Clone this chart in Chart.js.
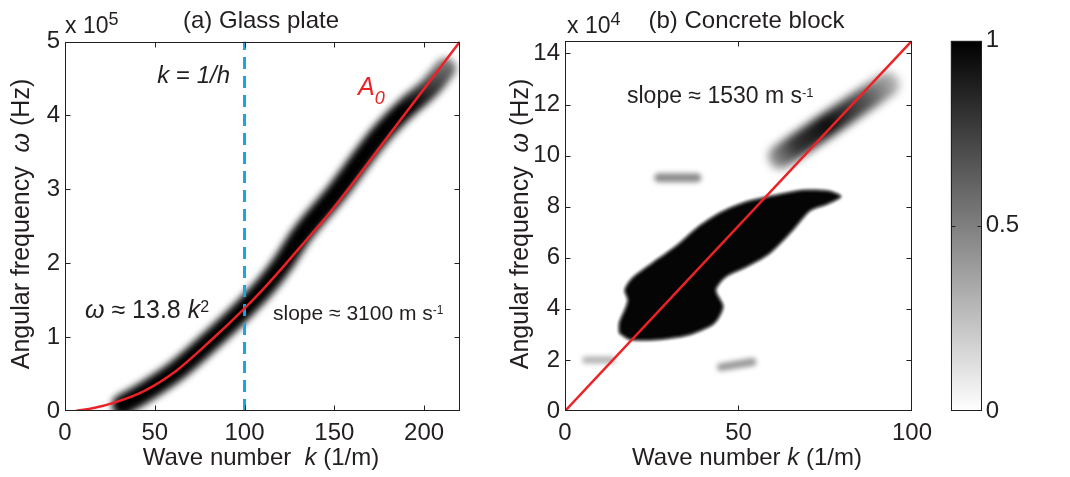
<!DOCTYPE html>
<html>
<head>
<meta charset="utf-8">
<script src="https://cdn.jsdelivr.net/npm/chart.js@4.4.0/dist/chart.umd.min.js"></script>
<style>
  html, body { margin: 0; padding: 0; background: #fff; }
  #wrap { position: relative; width: 1070px; height: 477px; }
  #wrap > div { position: absolute; top: 0; height: 477px; }
</style>
</head>
<body>
<div id="wrap">
  <div style="left:0;width:480px"><canvas id="glass"></canvas></div>
  <div style="left:480px;width:460px"><canvas id="concrete"></canvas></div>
  <div style="left:940px;width:130px"><canvas id="cbar"></canvas></div>
</div>
<script>
const INK = '#231f20';
const RED = '#ec2227';
const FONT = '"Liberation Sans", Arial, sans-serif';

// (a) glass plate, omega in 1e5 rad/s
const a0K = [6, 16, 27, 44, 62, 81, 100, 110, 120, 130, 140, 148, 189, 220];
const a0W = [0, 0.04, 0.11, 0.27, 0.545, 0.95, 1.39, 1.64, 1.91, 2.19, 2.47, 2.70, 4.01, 5.0];
const bandK = [32, 44, 62, 81, 100, 112, 122, 131, 151, 175, 190, 204, 212];
const bandW = [0.08, 0.25, 0.545, 0.95, 1.39, 1.7, 2.02, 2.36, 2.95, 3.72, 4.1, 4.4, 4.64];
const khK = [100, 100];
const khW = [0, 5];
const glassXTicks = [0, 50, 100, 150, 200];
const glassYTicks = [0, 1, 2, 3, 4, 5];

// (b) concrete block, omega in 1e4 rad/s
const fitK = [0, 100];
const fitW = [0, 14.5];
const mainBlobK = [15.7, 15.7, 17.3, 18.2, 17.3, 19.4, 25.3, 32.0, 37.9, 44.6, 52.2, 60.6, 69.0, 75.7, 79.5,
                   75.7, 70.7, 65.6, 58.9, 52.2, 46.3, 43.4, 45.5, 43.0, 35.4, 25.3, 18.6, 15.7];
const mainBlobW = [3.05, 3.44, 3.96, 4.35, 4.74, 5.2, 5.8, 6.45, 7.15, 7.75, 8.18, 8.44, 8.64, 8.61, 8.40,
                   8.12, 7.86, 7.08, 6.17, 5.65, 5.26, 4.74, 4.09, 3.44, 2.98, 2.79, 2.81, 3.05];
const upperBlobK = [62, 93];
const upperBlobW = [9.95, 12.8];
const spotAK = [27, 38], spotAW = [9.13, 9.13];
const spotBK = [6, 13.5], spotBW = [2.0, 2.0];
const spotCK = [45, 54], spotCW = [1.72, 1.92];
const concXTicks = [0, 50, 100];
const concYTicks = [0, 2, 4, 6, 8, 10, 12, 14];

// colour bar
const cbarTicks = [0, 0.5, 1];

const pts = (ks, ws) => ks.map((k, i) => ({ x: k, y: ws[i] }));

function rich(ctx, x, y, parts, size, align, color) {
  const fontFor = p => (p.i ? 'italic ' : '') + (p.s || size) + 'px ' + FONT;
  let w = 0;
  parts.forEach(p => { ctx.font = fontFor(p); p.w = ctx.measureText(p.t).width; w += p.w; });
  let cx = align === 'center' ? x - w / 2 : align === 'right' ? x - w : x;
  ctx.fillStyle = color || INK;
  ctx.textAlign = 'left';
  ctx.textBaseline = 'alphabetic';
  parts.forEach(p => {
    ctx.font = fontFor(p);
    ctx.fillText(p.t, cx, y + (p.dy || 0));
    cx += p.w;
  });
}

const deco = {
  id: 'deco',
  beforeDatasetsDraw(chart, args, opts) {
    chart.ctx.filter = opts.fillBlur ? 'blur(' + opts.fillBlur + 'px)' : 'none';
  },
  beforeDatasetDraw(chart, args) {
    const b = chart.data.datasets[args.index].blur;
    chart.ctx.filter = b ? 'blur(' + b + 'px)' : 'none';
  },
  afterDatasetDraw(chart) {
    chart.ctx.filter = 'none';
  },
  afterDraw(chart, args, opts) {
    const ctx = chart.ctx, a = chart.chartArea;
    const L = Math.round(a.left) + 0.5, R = Math.round(a.right) - 0.5;
    const T = Math.round(a.top) + 0.5, B = Math.round(a.bottom) - 0.5;
    const len = opts.tickLen || 5;
    ctx.save();
    ctx.filter = 'none';
    ctx.strokeStyle = INK;
    ctx.lineWidth = 1;
    ctx.strokeRect(L, T, R - L, B - T);
    ctx.beginPath();
    const xs = chart.scales.x, ys = chart.scales.y;
    if (xs.options.display) {
      xs.ticks.forEach(t => {
        const p = Math.round(xs.getPixelForValue(t.value)) + 0.5;
        if (p <= L + 1 || p >= R - 1) return;
        ctx.moveTo(p, B); ctx.lineTo(p, B - len);
        ctx.moveTo(p, T); ctx.lineTo(p, T + len);
      });
    }
    ys.ticks.forEach(t => {
      const p = Math.round(ys.getPixelForValue(t.value)) + 0.5;
      if (p <= T + 1 || p >= B - 1) return;
      ctx.moveTo(L, p); ctx.lineTo(L + len, p);
      ctx.moveTo(R, p); ctx.lineTo(R - len, p);
    });
    ctx.stroke();
    (opts.texts || []).forEach(tx => {
      ctx.save();
      ctx.translate(tx.x, tx.y);
      if (tx.rot) ctx.rotate(-Math.PI / 2);
      rich(ctx, 0, 0, tx.parts, tx.size, tx.align, tx.color);
      ctx.restore();
    });
    ctx.restore();
  }
};

function scales(xMin, xMax, xTicks, yMin, yMax, yTicks, yWidth) {
  const tickFont = { family: FONT, size: 24 };
  return {
    x: {
      type: 'linear', min: xMin, max: xMax,
      afterBuildTicks: s => { s.ticks = xTicks.map(v => ({ value: v })); },
      afterFit: s => { s.height = 66; },
      grid: { display: false, drawTicks: false }, border: { display: false },
      ticks: { font: tickFont, color: INK, padding: 8, maxRotation: 0, autoSkip: false }
    },
    y: {
      type: 'linear', min: yMin, max: yMax,
      afterBuildTicks: s => { s.ticks = yTicks.map(v => ({ value: v })); },
      afterFit: s => { s.width = yWidth; },
      grid: { display: false, drawTicks: false }, border: { display: false },
      ticks: { font: tickFont, color: INK, padding: 5, autoSkip: false }
    }
  };
}

new Chart(document.getElementById('glass'), {
  type: 'line',
  data: {
    datasets: [
      { data: pts(a0K, a0W), borderColor: RED, borderWidth: 2.5, pointRadius: 0,
        cubicInterpolationMode: 'monotone', order: 0 },
      { data: pts(khK, khW), borderColor: '#1ba4e0', borderWidth: 3, borderDash: [12, 7],
        pointRadius: 0, order: 1 },
      { data: pts(bandK, bandW), borderWidth: 21, pointRadius: 0, borderCapStyle: 'round',
        borderJoinStyle: 'round', cubicInterpolationMode: 'monotone', blur: 3.5, order: 5,
        borderColor: c => {
          const ch = c.chart;
          if (!ch.chartArea) return '#000';
          const y = ch.scales.y;
          const g = ch.ctx.createLinearGradient(0, y.getPixelForValue(4.1), 0, y.getPixelForValue(4.8));
          g.addColorStop(0, '#000');
          g.addColorStop(1, 'rgba(0,0,0,0.45)');
          return g;
        } }
    ]
  },
  options: {
    responsive: true, maintainAspectRatio: false, animation: false,
    layout: { padding: { top: 41.5, right: 20, left: 0, bottom: 0 } },
    scales: scales(0, 220, glassXTicks, 0, 5, glassYTicks, 65),
    plugins: {
      legend: { display: false }, tooltip: { enabled: false },
      deco: {
        texts: [
          { x: 261, y: 28, size: 24, align: 'center', parts: [{ t: '(a) Glass plate' }] },
          { x: 65, y: 33, size: 23, align: 'left', parts: [{ t: 'x 10' }, { t: '5', s: 18, dy: -8 }] },
          { x: 230, y: 83, size: 24, align: 'right',
            parts: [{ t: 'k', i: true }, { t: ' = ' }, { t: '1/h', i: true }] },
          { x: 358, y: 95, size: 25, align: 'left', color: RED,
            parts: [{ t: 'A', i: true }, { t: '0', i: true, s: 18, dy: 9 }] },
          { x: 85, y: 318, size: 25, align: 'left',
            parts: [{ t: 'ω', i: true }, { t: ' ≈ 13.8 ' }, { t: 'k', i: true }, { t: '2', s: 16, dy: -6.5 }] },
          { x: 273, y: 320, size: 21, align: 'left',
            parts: [{ t: 'slope ≈ 3100 m s' }, { t: '-1', s: 12, dy: -6.5 }] },
          { x: 261, y: 465, size: 24, align: 'center',
            parts: [{ t: 'Wave number  ' }, { t: 'k', i: true }, { t: ' (1/m)' }] },
          { x: 29, y: 224, size: 25, align: 'center', rot: true,
            parts: [{ t: 'Angular frequency  ' }, { t: 'ω', i: true }, { t: ' (Hz)' }] }
        ]
      }
    }
  },
  plugins: [deco]
});

new Chart(document.getElementById('concrete'), {
  type: 'line',
  data: {
    datasets: [
      { data: pts(fitK, fitW), borderColor: RED, borderWidth: 2.5, pointRadius: 0, order: 0 },
      { data: pts(upperBlobK, upperBlobW), borderWidth: 24, pointRadius: 0, borderCapStyle: 'round',
        blur: 4, order: 2,
        borderColor: c => {
          const ch = c.chart;
          if (!ch.chartArea) return '#000';
          const x = ch.scales.x, y = ch.scales.y;
          const g = ch.ctx.createLinearGradient(x.getPixelForValue(58), y.getPixelForValue(9.6),
                                                x.getPixelForValue(97), y.getPixelForValue(13.1));
          g.addColorStop(0, 'rgba(0,0,0,0.3)');
          g.addColorStop(0.22, 'rgba(0,0,0,0.8)');
          g.addColorStop(0.45, 'rgba(0,0,0,0.95)');
          g.addColorStop(0.75, 'rgba(0,0,0,0.65)');
          g.addColorStop(1, 'rgba(0,0,0,0.2)');
          return g;
        } },
      { data: pts(spotAK, spotAW), borderColor: 'rgba(0,0,0,0.45)', borderWidth: 9, pointRadius: 0,
        borderCapStyle: 'round', blur: 2.5, order: 3 },
      { data: pts(spotBK, spotBW), borderColor: 'rgba(0,0,0,0.3)', borderWidth: 7, pointRadius: 0,
        borderCapStyle: 'round', blur: 2.5, order: 3 },
      { data: pts(spotCK, spotCW), borderColor: 'rgba(0,0,0,0.4)', borderWidth: 8, pointRadius: 0,
        borderCapStyle: 'round', blur: 2.5, order: 3 },
      { data: pts(mainBlobK, mainBlobW), borderColor: '#050505', backgroundColor: '#050505',
        borderWidth: 1, pointRadius: 0, tension: 0.25, fill: 'shape', blur: 1.5, order: 9 }
    ]
  },
  options: {
    responsive: true, maintainAspectRatio: false, animation: false,
    layout: { padding: { top: 40.7, right: 13, left: 0, bottom: 0 } },
    scales: scales(0, 100, concXTicks, 0, 14.5, concYTicks, 85),
    plugins: {
      legend: { display: false }, tooltip: { enabled: false },
      deco: {
        fillBlur: 1.5,
        texts: [
          { x: 266.5, y: 28, size: 24, align: 'center', parts: [{ t: '(b) Concrete block' }] },
          { x: 87, y: 33, size: 23, align: 'left', parts: [{ t: 'x 10' }, { t: '4', s: 18, dy: -8 }] },
          { x: 147, y: 103, size: 23, align: 'left',
            parts: [{ t: 'slope ≈ 1530 m s' }, { t: '-1', s: 13, dy: -6 }] },
          { x: 267, y: 465, size: 24, align: 'center',
            parts: [{ t: 'Wave number ' }, { t: 'k', i: true }, { t: ' (1/m)' }] },
          { x: 48, y: 224, size: 25, align: 'center', rot: true,
            parts: [{ t: 'Angular frequency  ' }, { t: 'ω', i: true }, { t: ' (Hz)' }] }
        ]
      }
    }
  },
  plugins: [deco]
});

new Chart(document.getElementById('cbar'), {
  type: 'bar',
  data: {
    labels: ['level'],
    datasets: [{
      data: [[0, 1]], barPercentage: 1, categoryPercentage: 1, borderWidth: 0,
      backgroundColor: c => {
        const ch = c.chart;
        if (!ch.chartArea) return '#888';
        const a = ch.chartArea;
        const g = ch.ctx.createLinearGradient(0, a.bottom, 0, a.top);
        g.addColorStop(0, '#ffffff');
        g.addColorStop(1, '#000000');
        return g;
      }
    }]
  },
  options: {
    responsive: true, maintainAspectRatio: false, animation: false,
    layout: { padding: { top: 40.7, left: 10.7, right: 0, bottom: 66 } },
    scales: {
      x: { display: false },
      y: {
        position: 'right', min: 0, max: 1,
        afterBuildTicks: s => { s.ticks = cbarTicks.map(v => ({ value: v })); },
        afterFit: s => { s.width = 130 - 10.7 - 31; },
        grid: { display: false, drawTicks: false }, border: { display: false },
        ticks: { font: { family: FONT, size: 24 }, color: INK, padding: 4, callback: v => String(v) }
      }
    },
    plugins: { legend: { display: false }, tooltip: { enabled: false }, deco: { tickLen: 4 } }
  },
  plugins: [deco]
});
</script>
</body>
</html>
